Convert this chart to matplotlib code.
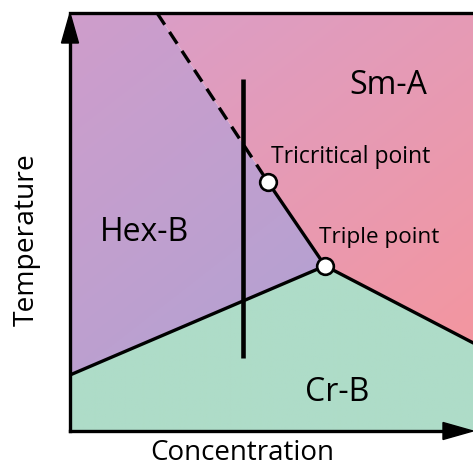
import numpy as np
import matplotlib
matplotlib.use("Agg")
import matplotlib.pyplot as plt
from matplotlib.patches import Polygon
from matplotlib.colors import to_rgb

plt.rcParams['font.family'] = ['Open Sans', 'DejaVu Sans']

# puntos del diagrama (concentración, temperatura) en unidades 0..1
hex_cr_start = (0.0, 0.134)
triple = (0.633, 0.395)
cr_sm_end = (1.0, 0.211)
tricritical = (0.491, 0.596)
dashed_top = (0.216, 1.0)
vertical_x = 0.429
vertical_y = (0.175, 0.842)

region_names = ["Hex-B", "Sm-A", "Cr-B"]
region_label_pos = [(0.186, 0.474), (0.789, 0.826), (0.663, 0.093)]

fig = plt.figure(figsize=(4.73, 4.68), dpi=100)
ax = fig.add_axes([70 / 473, 37 / 468, 403 / 473, 418 / 468])
ax.set_xlim(0, 1)
ax.set_ylim(0, 1)
for s in ax.spines.values():
    s.set_visible(False)
ax.set_xticks([])
ax.set_yticks([])

# polígonos de cada fase
poly_cr = [(0, 0), (1, 0), cr_sm_end, triple, hex_cr_start]
poly_hex = [hex_cr_start, triple, tricritical, dashed_top, (0, 1)]
poly_sm = [dashed_top, (1, 1), cr_sm_end, triple, tricritical]


def gradient_fill(poly, c1, c2, direction):
    n = 200
    xx, yy = np.meshgrid(np.linspace(0, 1, n), np.linspace(0, 1, n))
    t = xx * direction[0] + (1 - yy) * direction[1]
    t = (t - t.min()) / (t.max() - t.min())
    a, b = np.array(to_rgb(c1)), np.array(to_rgb(c2))
    img = a[None, None, :] * (1 - t[..., None]) + b[None, None, :] * t[..., None]
    im = ax.imshow(img, extent=(0, 1, 0, 1), origin="lower", aspect="auto", zorder=0)
    patch = Polygon(poly, closed=True, facecolor="none", edgecolor="none")
    ax.add_patch(patch)
    im.set_clip_path(patch)


gradient_fill(poly_hex, "#cf9dcb", "#a8a3d5", (0.6, 0.8))
gradient_fill(poly_sm, "#d89fcb", "#f7959a", (0.6, 0.8))
gradient_fill(poly_cr, "#aedcc8", "#aedcc8", (1, 0))

# límites de fase
lw = 2.4
ax.plot([hex_cr_start[0], triple[0], cr_sm_end[0]],
        [hex_cr_start[1], triple[1], cr_sm_end[1]], color="black", lw=lw, zorder=3)
ax.plot([tricritical[0], triple[0]], [tricritical[1], triple[1]], color="black", lw=lw, zorder=3)
ax.plot([dashed_top[0], tricritical[0]], [dashed_top[1], tricritical[1]], color="black",
        lw=lw, dashes=(4.2, 2.6), zorder=3)
ax.plot([vertical_x, vertical_x], vertical_y, color="black", lw=3.3, zorder=3,
        solid_capstyle="butt")

ax.plot([tricritical[0], triple[0]], [tricritical[1], triple[1]], "o", ms=12,
        mfc="white", mec="black", mew=1.9, zorder=4)

# ejes con flechas
ax.plot([0, 0], [0, 0.95], color="black", lw=2.4, clip_on=False, zorder=5,
        solid_capstyle="projecting")
ax.plot([0, 0.95], [0, 0], color="black", lw=2.4, clip_on=False, zorder=5,
        solid_capstyle="projecting")
ax.plot([0, 1], [1, 1], color="black", lw=2.4, clip_on=False, zorder=5,
        solid_capstyle="projecting")
hl_y, hw_x = 30 / 418, 8.5 / 403
ax.add_patch(Polygon([(-hw_x, 1 - hl_y), (hw_x, 1 - hl_y), (0, 1)], closed=True,
                     color="black", clip_on=False, zorder=6))
hl_x, hw_y = 30 / 403, 8.5 / 418
ax.add_patch(Polygon([(1 - hl_x, -hw_y), (1 - hl_x, hw_y), (1, 0)], closed=True,
                     color="black", clip_on=False, zorder=6))

# etiquetas
for name, (x, y) in zip(region_names, region_label_pos):
    ax.text(x, y, name, fontsize=23, ha="center", va="center", zorder=5)
ax.text(0.498, 0.655, "Tricritical point", fontsize=16.5, ha="left", va="center", zorder=5)
ax.text(0.619, 0.462, "Triple point", fontsize=16.2, ha="left", va="center", zorder=5)

fig.text(27 / 473, 1 - 240 / 468, "Temperature", fontsize=20.3, rotation=90,
         ha="center", va="center")
fig.text(242 / 473, 1 - 453 / 468, "Concentration", fontsize=20, ha="center", va="center")

fig.savefig("out.png", dpi=100)
